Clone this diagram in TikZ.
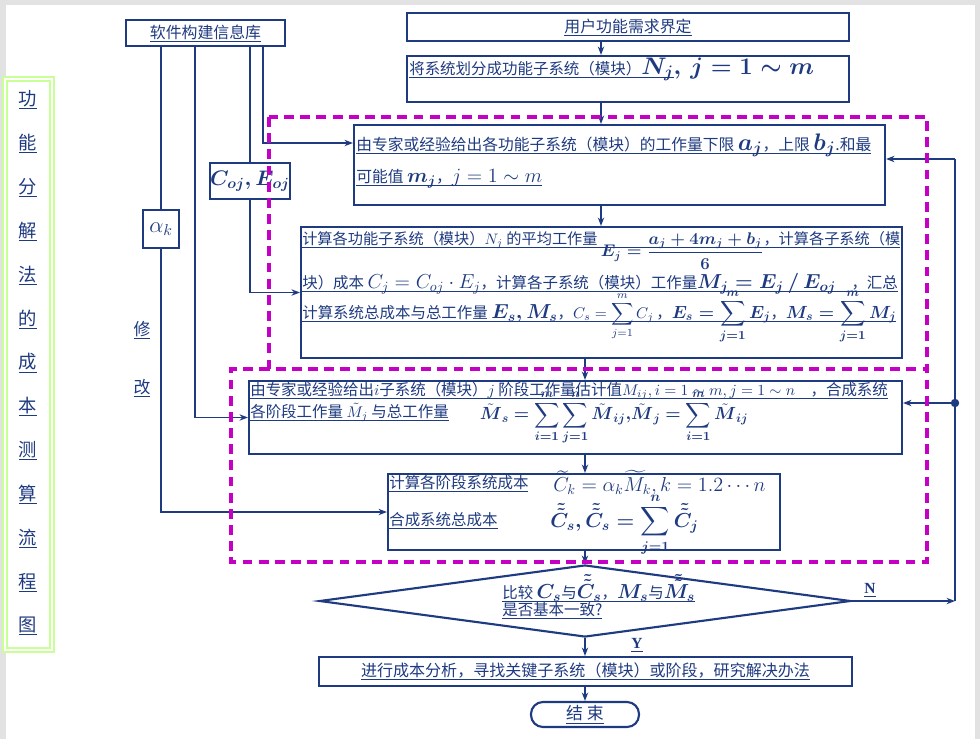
\RequirePackage{fix-cm}
\documentclass[tikz,border=0pt]{standalone}
\usepackage{amsmath}
\usepackage{amssymb}
\usepackage[no-math]{fontspec}
\setmainfont{Noto Sans CJK SC}
\newfontfamily\romfont{Liberation Serif}
\usepackage{tikz}
\usetikzlibrary{
  arrows.meta,
  positioning,
  calc,
  fit,
  shapes.geometric
}
\usepackage{xcolor}
\definecolor{navy}{RGB}{30,58,128}
\definecolor{zone}{RGB}{196,0,196}
\definecolor{leaf}{RGB}{200,255,150}
\definecolor{frame}{RGB}{226,226,226}
\newcommand\uln[1]{\setbox0\hbox{#1}\rlap{\rule[-2.4pt]{\wd0}{0.55pt}}\box0}
\newcommand\mmid[1]{{\fontsize{12.5}{13}\selectfont #1}}
\newcommand\mbig[1]{{\fontsize{14.4}{15}\selectfont #1}}
\newcommand\mhuge[1]{{\fontsize{17}{18}\selectfont #1}}
\newcommand\tM{\tilde{\boldsymbol{M}}}

\begin{document}
\begin{tikzpicture}[
x=0.025cm, y=-0.025cm,
bx/.style={draw=navy, line width=1.5pt, inner sep=0pt},
tx/.style={text=navy, inner sep=0pt, font=\fontsize{11}{13}\selectfont},
ar/.style={-{Stealth[length=6pt,width=4.5pt]}, draw=navy, line width=1.1pt},
ln/.style={draw=navy, line width=1.1pt},
zn/.style={draw=zone, line width=2.2pt, dash pattern=on 7pt off 4.5pt},
dm/.style={draw=navy, line width=1.5pt, diamond, inner sep=0pt,
  minimum width=13.28cm, minimum height=1.8cm}
]
\useasboundingbox (0,0) rectangle (980,739);
\fill[frame] (0,0) rectangle (980,739);
\fill[white] (6,5) rectangle (975,739);

% title column
\draw[leaf, line width=1.6pt, double=white, double distance=1pt] (5,79) rectangle (52,650);
\foreach \ch [count=\i from 0] in {功,能,分,解,法,的,成,本,测,算,流,程,图}
  \node[tx, font=\fontsize{13}{13}\selectfont] (t\i) at (28,100+43.83*\i) {\uln{\ch}};

% inputs
\node[bx, tx, minimum width=3.975cm, minimum height=0.65cm, font=\fontsize{11.3}{13}\selectfont] (lib) at (205.5,33) {\uln{软件构建信息库}};
\node[bx, tx, minimum width=1.8cm, minimum height=0.9cm, font=\fontsize{15}{15}\selectfont] (coe) at (250,181) {$\boldsymbol{C_{oj},E_{oj}}$};
\node[bx, tx, minimum width=0.9cm, minimum height=0.95cm, font=\fontsize{16}{16}\selectfont] (alp) at (161,229) {$\alpha_k$};
\node[tx, font=\fontsize{12}{12}\selectfont] (fix1) at (142,330) {\uln{修}};
\node[tx, font=\fontsize{12}{12}\selectfont] (fix2) at (142,388) {\uln{改}};

% main flow
\node[bx, tx, minimum width=11.05cm, minimum height=0.7cm, font=\fontsize{11.3}{13}\selectfont] (need) at (628,27) {\uln{用户功能需求界定}};
\node[bx, fit={(407,56)(849,102)}] (split) {};
\node[tx, anchor=base west] (splitT) at (409,74) {\uln{将系统划分成功能子系统（模块）\mhuge{$\boldsymbol{N_j}$}}\mhuge{$\boldsymbol{,\,j=1\sim m}$}};

\node[bx, fit={(354,125)(885,205)}] (est) {};
\node[tx, anchor=base west, font=\fontsize{11.2}{13}\selectfont] (est1) at (356,150) {\uln{由专家或经验给出各功能子系统（模块）的工作量下限 \mhuge{$\boldsymbol{a_j}$}，上限 \mhuge{$\boldsymbol{b_j}$}.和最}};
\node[tx, anchor=base west, font=\fontsize{11.2}{13}\selectfont] (est2) at (356,182) {\uln{可能值 \mbig{$\boldsymbol{m_j}$}，\mbig{$j=1\sim m$}}};

\node[bx, fit={(301,227)(902,358)}] (avg) {};
\node[tx, anchor=base west, font=\fontsize{10.8}{13}\selectfont] (avg1) at (302,244) {\uln{计算各功能子系统（模块）$N_j$ 的平均工作量 \raisebox{-9pt}{\fontsize{12}{13}\selectfont$\boldsymbol{E_j=\dfrac{a_j+4m_j+b_j}{6}}$}，计算各子系统（模}};
\node[tx, anchor=base west] (avg2) at (302,288) {\uln{块）成本 \mbig{$C_j=C_{oj}\cdot E_j$}，计算各子系统（模块）工作量\mbig{$\boldsymbol{M_j=E_j\,/\,E_{oj}}$}\quad，汇总}};
\node[tx, anchor=base west] (avg3) at (302,318) {\uln{计算系统总成本与总工作量 \mbig{$\boldsymbol{E_s,M_s}$}，$\displaystyle C_s=\sum_{j=1}^m C_j$\,，\mmid{$\displaystyle\boldsymbol{E_s=\sum_{j=1}^m E_j}$}，\mmid{$\displaystyle\boldsymbol{M_s=\sum_{j=1}^m M_j}$}}};

\node[bx, fit={(249,381)(902,454)}] (stage) {};
\node[tx, anchor=base west] (stage1) at (250,395) {\uln{由专家或经验给出$i$子系统（模块）$j$ 阶段工作量估计值$\tilde{M}_{ij}, i=1\sim m, j=1\sim n$\quad，合成系统}};
\node[tx, anchor=base west] (stage2) at (250,417) {\uln{各阶段工作量 $\tilde{M}_j$ 与总工作量}\qquad\raisebox{-2pt}{\mmid{$\displaystyle\tM_{\boldsymbol{s}}\boldsymbol{=}\sum_{\boldsymbol{i=1}}^{\boldsymbol{m}}\sum_{\boldsymbol{j=1}}^{\boldsymbol{n}}\tM_{\boldsymbol{ij}}\boldsymbol{,}\tM_{\boldsymbol{j}}\boldsymbol{=}\sum_{\boldsymbol{i=1}}^{\boldsymbol{m}}\tM_{\boldsymbol{ij}}$}}};

\node[bx, fit={(388,474)(780,550)}] (cost) {};
\node[tx, anchor=base west] (cost1) at (389,488) {\uln{计算各阶段系统成本}};
\node[tx, anchor=base west] (cost1m) at (553,491) {\mbig{$\widetilde{C}_k=\alpha_k\widetilde{M}_k, k=1.2\cdots n$}};
\node[tx, anchor=base west] (cost2) at (389,525) {\uln{合成系统总成本}};
\node[tx, anchor=base west] (cost2m) at (550,527) {\mbig{$\displaystyle\boldsymbol{\tilde{\tilde{C}}_s,\tilde{\tilde{C}}_s=\sum_{j=1}^n\tilde{\tilde{C}}_j}$}};

\node[dm] (cmp) at (585,601) {};
\node[tx, anchor=base west] (cmp1) at (502,598) {\uln{比较 \mbig{$\boldsymbol{C_s}$}与\mbig{$\boldsymbol{\tilde{\tilde{C}}_s}$}，\mbig{$\boldsymbol{M_s}$}与\mbig{$\boldsymbol{\tilde{\tilde{M}}_s}$}}};
\node[tx, anchor=base west] (cmp2) at (502,615) {\uln{是否基本一致?}};
\node[tx, font=\romfont\bfseries\fontsize{11}{11}\selectfont] (yes) at (637,645) {\uln{Y}};
\node[tx, font=\romfont\bfseries\fontsize{11}{11}\selectfont] (no) at (870,590) {\uln{N}};

\node[bx, tx, minimum width=13.325cm, minimum height=0.725cm, font=\fontsize{11.4}{13}\selectfont] (act) at (585.5,671.5) {\uln{进行成本分析，寻找关键子系统（模块）或阶段，研究解决办法}};
\node[bx, tx, minimum width=2.7cm, minimum height=0.625cm, rounded corners=0.3cm, font=\fontsize{12}{13}\selectfont] (stop) at (585,714.5) {\uln{结 束}};

% connectors
\coordinate (up) at (601,0);
\coordinate (fin) at (195,0);
\coordinate (din) at (263,143);
\coordinate (nx) at (955,0);
\coordinate (dret) at (955,159);
\coordinate (fret) at (955,403);
\draw[ar] (need.south -| up) -- (split.north -| up);
\draw[ar] (split.south -| up) -- (est.north -| up);
\draw[ar] (est.south -| up) -- (avg.north -| up);
\draw[ar] (avg.south -| cmp) -- (stage.north -| cmp);
\draw[ar] (stage.south -| cmp) -- (cost.north -| cmp);
\draw[ar] (cost.south -| cmp) -- (cmp.north);
\draw[ar] (cmp.south) -- (act.north -| cmp);
\draw[ar] (act.south -| cmp) -- (stop.north -| cmp);

\draw[ln] (lib.south -| alp) -- (alp.north);
\draw[ar] (alp.south) |- (cost.west);
\draw[ar] (lib.south -| fin) |- (stage.west);
\draw[ln] (lib.south -| coe) -- (coe.north);
\draw[ar] (coe.south) |- (avg.west);
\draw[ar] (lib.south -| din) |- (est.west |- din);

\draw[ar] (cmp.east) -- (cmp.east -| nx);
\draw[ln] (cmp.east -| nx) -- (dret);
\draw[ar] (dret) -- (dret -| est.east);
\fill[navy] (fret) circle (3pt);
\draw[ar] (fret) -- (fret -| stage.east);

% dashed zones
\draw[zn] (269,117) rectangle (927,369);
\draw[zn] (269,369) -- (231,369) -- (231,562) -- (927,562) -- (927,369);
\end{tikzpicture}
\end{document}
